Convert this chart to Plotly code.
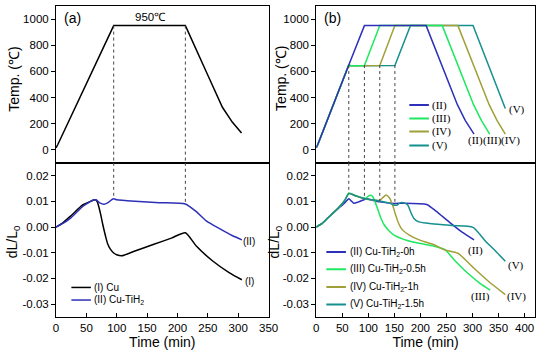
import plotly.graph_objects as go
import numpy as np

# ---------------- data ----------------
# Panel (a) temperature profile
a_temp_t = [0, 3, 95, 213, 250, 274, 290.5, 305.5]
a_temp_v = [15, 40, 950, 950, 570, 325, 210, 128]

# Panel (a) dL/L0
a_cu_t = [0, 10, 25, 44, 55, 62.5, 65, 68, 73, 77, 81.5, 85, 89.5, 95, 100, 108, 130, 160, 190, 213, 231, 258, 285, 306]
a_cu_v = [0, 0.0014, 0.0045, 0.0086, 0.0098, 0.0105, 0.0106, 0.0098, 0.0055, 0.0010, -0.0035, -0.0065, -0.0086,
          -0.0101, -0.0108, -0.0112, -0.0093, -0.0068, -0.0043, -0.0022, -0.0074, -0.0132, -0.0177, -0.0205]
a_ti_t = [0, 10, 25, 44, 55, 62.5, 66, 72, 79, 85, 91, 95, 100, 130, 170, 213, 230, 248, 270, 290, 306]
a_ti_v = [0, 0.0012, 0.0037, 0.0080, 0.0097, 0.0106, 0.0106, 0.0094, 0.0089, 0.0094, 0.0105, 0.0110, 0.0106,
          0.0100, 0.0095, 0.0090, 0.0062, 0.0023, -0.0007, -0.0033, -0.0050]
a_marks = [95, 213]

# Panel (b) temperature profiles
b_names = ["(II)", "(III)", "(IV)", "(V)"]
b_full = ["(II) Cu-TiH<sub>2</sub>-0h", "(III) Cu-TiH<sub>2</sub>-0.5h",
          "(IV) Cu-TiH<sub>2</sub>-1h", "(V) Cu-TiH<sub>2</sub>-1.5h"]
b_colors = ["#2d30b8", "#1ee860", "#a0a038", "#14908e"]

T2_t = [0, 3, 62.5, 92.5, 211, 246, 271, 286, 303]
T2_v = [15, 40, 648, 950, 950, 600, 345, 225, 120]
T3_t = [0, 3, 62.5, 66, 92.5, 122, 242, 277, 302, 317, 333]
T3_v = [15, 40, 648, 643, 645, 950, 950, 600, 345, 225, 120]
T4_t = [0, 3, 62.5, 66, 122, 151, 272, 307, 332, 347, 363]
T4_v = [15, 40, 648, 643, 645, 950, 950, 600, 345, 225, 120]
T5_t = [0, 3, 62.5, 66, 151, 181, 301, 336, 363]
T5_v = [15, 40, 648, 643, 645, 950, 950, 600, 315]

# Panel (b) dL/L0
D2_t = [0, 10, 22, 44, 55, 60, 63, 67, 72, 80, 90, 97, 105, 122, 150, 165, 212, 230, 256, 280, 303]
D2_v = [0, 0.0012, 0.0035, 0.0075, 0.0095, 0.0106, 0.0110, 0.0102, 0.0093, 0.0097, 0.0105, 0.0110, 0.0106,
        0.0098, 0.0092, 0.0093, 0.0088, 0.0062, 0.0018, -0.0020, -0.0050]
D3_t = [0, 10, 22, 44, 55, 62.5, 75, 90, 95, 100, 104, 108, 112, 118, 124, 130, 140, 150, 175, 200, 225, 247,
        265, 290, 315, 334]
D3_v = [0, 0.0012, 0.0035, 0.0078, 0.0105, 0.0132, 0.0123, 0.0113, 0.0112, 0.0120, 0.0124, 0.0120, 0.0103,
        0.0070, 0.0035, 0.0010, -0.0015, -0.0032, -0.0052, -0.0064, -0.0074, -0.0088, -0.0128, -0.0178,
        -0.0220, -0.0245]
D4_t = [0, 10, 22, 44, 55, 62.5, 75, 90, 105, 122, 128, 134, 140, 146, 152, 158, 165, 178, 200, 225, 245, 272,
        300, 330, 363]
D4_v = [0, 0.0012, 0.0035, 0.0078, 0.0105, 0.0130, 0.0122, 0.0112, 0.0106, 0.0104, 0.0115, 0.0125, 0.0115,
        0.0090, 0.0050, 0.0015, -0.0010, -0.0030, -0.0052, -0.0068, -0.0088, -0.0102, -0.0155, -0.0210, -0.0263]
D5_t = [0, 10, 22, 44, 55, 62.5, 75, 90, 122, 140, 150, 155, 162, 170, 176, 182, 188, 197, 222, 260, 301, 325,
        345, 363]
D5_v = [0, 0.0012, 0.0035, 0.0078, 0.0105, 0.0130, 0.0122, 0.0112, 0.0101, 0.0093, 0.0085, 0.0085, 0.0095,
        0.0093, 0.0085, 0.0055, 0.0032, 0.0020, 0.0013, 0.0006, -0.0001, -0.0055, -0.0095, -0.0133]
b_marks = [62.5, 92.5, 122, 151]

# tick labels
temp_ticks = [0, 200, 400, 600, 800, 1000]
dl_ticks = [0.02, 0.01, 0.0, -0.01, -0.02, -0.03]
dl_text = ["0.02", "0.01", "0.00", "-0.01", "-0.02", "-0.03"]
xa_ticks = [0, 50, 100, 150, 200, 250, 300, 350]
xb_ticks = [0, 50, 100, 150, 200, 250, 300, 350, 400]

# ---------------- figure ----------------
SANS = "Liberation Sans, Arial, sans-serif"
SERIF = "Liberation Serif, Times New Roman, serif"
fig = go.Figure()
LW = 1.5

fig.add_trace(go.Scatter(x=a_temp_t, y=a_temp_v, mode="lines", line=dict(color="black", width=LW),
                         xaxis="x", yaxis="y", showlegend=False))
fig.add_trace(go.Scatter(x=a_cu_t, y=a_cu_v, mode="lines", line=dict(color="black", width=LW, shape="spline", smoothing=0.6),
                         xaxis="x2", yaxis="y2", showlegend=False))
fig.add_trace(go.Scatter(x=a_ti_t, y=a_ti_v, mode="lines", line=dict(color="#2d30b8", width=LW, shape="spline", smoothing=0.6),
                         xaxis="x2", yaxis="y2", showlegend=False))

Tt = [T2_t, T3_t, T4_t, T5_t]
Tv = [T2_v, T3_v, T4_v, T5_v]
Dt = [D2_t, D3_t, D4_t, D5_t]
Dv = [D2_v, D3_v, D4_v, D5_v]
for i in [3, 2, 1, 0]:
    fig.add_trace(go.Scatter(x=Tt[i], y=Tv[i], mode="lines", line=dict(color=b_colors[i], width=LW),
                             xaxis="x3", yaxis="y3", showlegend=False))
for i in [0, 1, 2, 3]:
    fig.add_trace(go.Scatter(x=Dt[i], y=Dv[i], mode="lines",
                             line=dict(color=b_colors[i], width=LW, shape="spline", smoothing=0.6),
                             xaxis="x4", yaxis="y4", showlegend=False))

shapes = []
DOT = dict(color="#444444", width=1, dash="dot")
# dotted guide lines (a)
for m in a_marks:
    shapes.append(dict(type="line", xref="x", yref="y", x0=m, x1=m, y0=float(np.interp(m, a_temp_t, a_temp_v)), y1=-100, line=DOT))
    shapes.append(dict(type="line", xref="x2", yref="y2", x0=m, x1=m, y0=0.025, y1=float(np.interp(m, a_ti_t, a_ti_v)), line=DOT))
# dotted guide lines (b)
for k, m in enumerate(b_marks):
    shapes.append(dict(type="line", xref="x3", yref="y3", x0=m, x1=m, y0=648, y1=-100, line=DOT))
    yb = float(np.interp(m, Dt[min(k + 1, 3)], Dv[min(k + 1, 3)]))
    shapes.append(dict(type="line", xref="x4", yref="y4", x0=m, x1=m, y0=0.025, y1=yb, line=DOT))

annotations = []
def ann(x, y, text, xr, yr, size=10, family=SANS, xanchor="left", angle=0):
    annotations.append(dict(x=x, y=y, xref=xr, yref=yr, text=text, showarrow=False, textangle=angle,
                            font=dict(family=family, size=size, color="black"), xanchor=xanchor, yanchor="middle"))

# legend (a)
leg_a = [("(I) Cu", "black"), ("(II) Cu-TiH<sub>2</sub>", "#2d30b8")]
for j, (txt, c) in enumerate(leg_a):
    yy = [-0.0235, -0.0284][j]
    shapes.append(dict(type="line", xref="x2", yref="y2", x0=25.3, x1=57.5, y0=yy, y1=yy, line=dict(color=c, width=LW)))
    ann(59.5, yy, txt, "x2", "y2", size=10)
# legend (b) top
leg_bt_y = [342, 240, 139, 32]
for j in range(4):
    shapes.append(dict(type="line", xref="x3", yref="y3", x0=178.7, x1=216.3, y0=leg_bt_y[j], y1=leg_bt_y[j],
                       line=dict(color=b_colors[j], width=2)))
    ann(218.5, leg_bt_y[j], b_names[j], "x3", "y3", size=11, family=SERIF)
# legend (b) bottom
leg_bb_y = [-0.0097, -0.0164, -0.0233, -0.0301]
for j in range(4):
    shapes.append(dict(type="line", xref="x4", yref="y4", x0=19.4, x1=57, y0=leg_bb_y[j], y1=leg_bb_y[j],
                       line=dict(color=b_colors[j], width=2)))
    ann(60.5, leg_bb_y[j], b_full[j], "x4", "y4", size=10)

# curve labels
ann(318, -0.0058, "(II)", "x2", "y2", size=10, xanchor="center")
ann(318, -0.0213, "(I)", "x2", "y2", size=10, xanchor="center")
ann(305, 69, "(II)", "x3", "y3", size=11, family=SERIF, xanchor="center")
ann(337.7, 69, "(III)", "x3", "y3", size=11, family=SERIF, xanchor="center")
ann(373, 69, "(IV)", "x3", "y3", size=11, family=SERIF, xanchor="center")
ann(384.6, 305, "(V)", "x3", "y3", size=11, family=SERIF, xanchor="center")
ann(305, -0.009, "(II)", "x4", "y4", size=11, family=SERIF, xanchor="center")
ann(382.7, -0.0148, "(V)", "x4", "y4", size=11, family=SERIF, xanchor="center")
ann(315.8, -0.0269, "(III)", "x4", "y4", size=11, family=SERIF, xanchor="center")
ann(384.6, -0.027, "(IV)", "x4", "y4", size=11, family=SERIF, xanchor="center")
# panel labels
ann(27.4, 1011, "(a)", "x", "y", size=14, xanchor="center")
ann(31, 1011, "(b)", "x3", "y3", size=14, xanchor="center")
ann(156, 1013, "950℃", "x", "y", size=11.5, xanchor="center")

# y-axis titles (placed as rotated annotations for exact positioning)
ann(-0.0879, 0.766, "Temp. (℃)", "paper", "paper", size=14, xanchor="center", angle=-90)
ann(-0.0894, 0.241, "dL/L<sub>0</sub>", "paper", "paper", size=14, xanchor="center", angle=-90)
ann(0.470, 0.766, "Temp. (℃)", "paper", "paper", size=14, xanchor="center", angle=-90)
ann(0.458, 0.241, "dL/L<sub>0</sub>", "paper", "paper", size=14, xanchor="center", angle=-90)

TF = dict(family=SANS, size=11.5, color="black")
TTF = dict(family=SANS, size=14, color="black")
base = dict(showline=True, linecolor="black", linewidth=1, mirror=True, showgrid=False, zeroline=False,
            tickfont=TF, ticklen=4, tickcolor="black", tickwidth=1)

XL = [0, 0.4438]
XR = [0.5433, 1]
YT = [0.4958, 1]
YB = [0, 0.4958]

fig.update_layout(
    width=550, height=358,
    margin=dict(l=56, r=5, t=5, b=41),
    paper_bgcolor="white", plot_bgcolor="white",
    showlegend=False,
    shapes=shapes, annotations=annotations,
    xaxis=dict(base, domain=XL, anchor="y", range=[0, 350], showticklabels=False, ticks=""),
    yaxis=dict(base, domain=YT, anchor="x", range=[-100, 1100], tickvals=temp_ticks, ticks="outside"),
    xaxis2=dict(base, domain=XL, anchor="y2", range=[0, 350], tickvals=xa_ticks, ticks="inside",
                title=dict(text="Time (min)", font=TTF, standoff=2)),
    yaxis2=dict(base, domain=YB, anchor="x2", range=[-0.035, 0.025], tickvals=dl_ticks, ticktext=dl_text,
                ticks="outside"),
    xaxis3=dict(base, domain=XR, anchor="y3", range=[0, 420], showticklabels=False, ticks=""),
    yaxis3=dict(base, domain=YT, anchor="x3", range=[-100, 1100], tickvals=temp_ticks, ticks="outside"),
    xaxis4=dict(base, domain=XR, anchor="y4", range=[0, 420], tickvals=xb_ticks, ticks="inside",
                title=dict(text="Time (min)", font=TTF, standoff=2)),
    yaxis4=dict(base, domain=YB, anchor="x4", range=[-0.035, 0.025], tickvals=dl_ticks, ticktext=dl_text,
                ticks="outside"),
)

fig.write_html("out.html", config={"displayModeBar": False},
               post_script="document.body.style.margin='0px';document.body.style.overflow='hidden';")
